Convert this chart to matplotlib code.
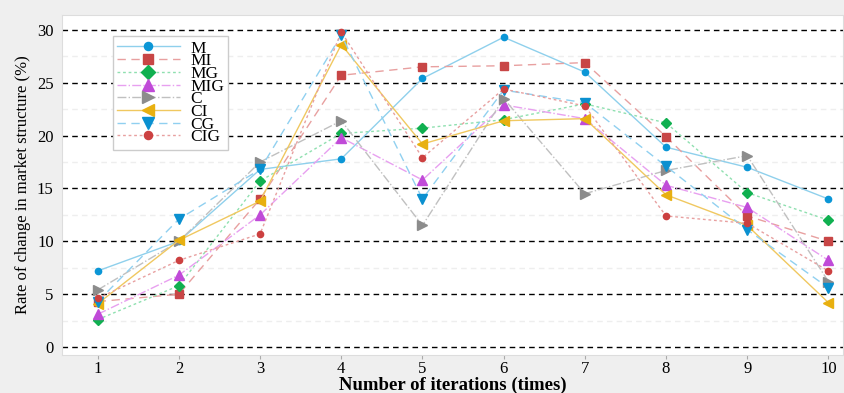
import numpy as np
import matplotlib.pyplot as plt
from matplotlib.ticker import MultipleLocator

plt.rcParams['font.family'] = ['Liberation Serif', 'DejaVu Serif']

iterations = np.arange(1, 11)

M   = [7.2, 10.0, 16.8, 17.8, 25.4, 29.3, 26.0, 18.9, 17.0, 14.0]
MI  = [4.3, 5.0, 14.0, 25.7, 26.5, 26.6, 26.9, 19.9, 12.4, 10.0]
MG  = [2.6, 5.8, 15.7, 20.2, 20.7, 21.5, 23.0, 21.2, 14.6, 12.0]
MIG = [3.1, 6.8, 12.5, 19.8, 15.8, 22.9, 21.6, 15.3, 13.2, 8.2]
C   = [5.4, 10.0, 17.5, 21.4, 11.5, 23.5, 14.5, 16.7, 18.1, 6.2]
CI  = [4.1, 10.1, 13.8, 28.6, 19.2, 21.4, 21.6, 14.4, 11.5, 4.2]
CG  = [4.3, 12.1, 16.8, 29.5, 14.0, 24.3, 23.1, 17.1, 11.1, 5.6]
CIG = [4.6, 8.2, 10.7, 29.8, 17.9, 24.4, 22.8, 12.4, 11.7, 7.2]

series = [
    ("M",   M,   "#8fd0ec", "#0b96d6", "o", "-"),
    ("MI",  MI,  "#e8a0a0", "#c84646", "s", (0, (6, 4))),
    ("MG",  MG,  "#8fe0b0", "#10b050", "D", (0, (2, 2))),
    ("MIG", MIG, "#e8a0f0", "#c04ad8", "^", "-."),
    ("C",   C,   "#c0c0c0", "#8c8c8c", ">", "-."),
    ("CI",  CI,  "#f0c860", "#e8b010", "<", "-"),
    ("CG",  CG,  "#90d0f0", "#0a90d0", "v", (0, (6, 4))),
    ("CIG", CIG, "#e8a0a0", "#cc4040", "o", (0, (2, 2))),
]
sizes = {"o": 4.5, "s": 5.5, "D": 5.5, "^": 7, ">": 7, "<": 7, "v": 7}

fig = plt.figure(figsize=(8.45, 3.93), dpi=100, facecolor="#efefef")
ax = fig.add_axes([62/845, 1 - 355/393, 781/845, 340/393])
ax.set_facecolor("white")

for name, vals, lc, mc, mk, ls in series:
    ax.plot(iterations, vals, color=lc, linestyle=ls, linewidth=1.0,
            marker=mk, markersize=sizes[mk], markerfacecolor=mc, markeredgecolor=mc,
            label=name)

ax.set_xlim(0.56, 10.18)
ax.set_ylim(-0.75, 31.4)
ax.set_xticks(iterations)
ax.yaxis.set_major_locator(MultipleLocator(5))
ax.yaxis.set_minor_locator(MultipleLocator(2.5))
ax.grid(axis="y", which="major", color="black", linestyle=(0, (4, 3)), linewidth=1.0)
ax.grid(axis="y", which="minor", color="#eeeeee", linestyle=(0, (4, 3)), linewidth=1.0)
ax.set_axisbelow(True)
ax.tick_params(axis="y", which="both", length=0, labelsize=12, pad=6)
ax.tick_params(axis="x", length=3, color="#aaaaaa", labelsize=12, pad=1)
for s in ax.spines.values():
    s.set_color("#dddddd")

ax.set_xlabel("Number of iterations (times)", fontsize=13.5, fontweight="bold", labelpad=0)
ax.set_ylabel("Rate of change in market structure (%)", fontsize=12)

leg = ax.legend(loc="upper left", bbox_to_anchor=(0.065, 0.938), borderaxespad=0,
                fontsize=12.5, handlelength=3.6, labelspacing=-0.2, borderpad=0.25,
                handletextpad=0.6, markerscale=1.3,
                fancybox=False, framealpha=1, edgecolor="#cccccc")

fig.savefig("out.png", dpi=100, facecolor=fig.get_facecolor())
